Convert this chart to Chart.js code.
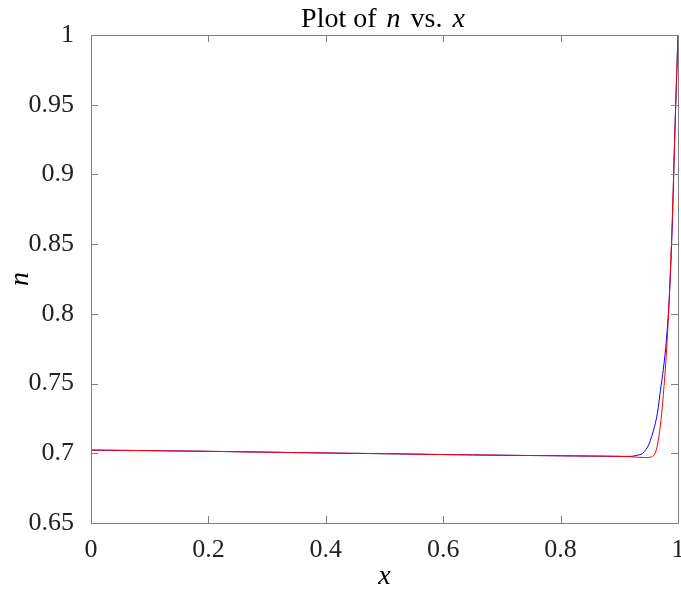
<!DOCTYPE html>
<html>
<head>
<meta charset="utf-8">
<script src="https://cdn.jsdelivr.net/npm/chart.js@4.4.0/dist/chart.umd.min.js"></script>
<style>
  html, body { margin: 0; padding: 0; background: #fff; }
  #wrap { width: 681px; height: 596px; }
</style>
</head>
<body>
<div id="wrap"><canvas id="chart_n"></canvas></div>
<script>
// sample positions along x and the two n(x) curves
let xs    = [0, 0.1, 0.2, 0.3, 0.4, 0.5, 0.6, 0.7, 0.8, 0.9, 0.92, 0.93, 0.94, 0.95, 0.955, 0.96, 0.965, 0.97, 0.975, 0.98, 0.985, 0.99, 0.995, 1];
let nBlue = [0.7023, 0.7019, 0.7014, 0.7008, 0.7002, 0.6997, 0.6991, 0.6986, 0.6982, 0.6978, 0.6978, 0.6985, 0.7000, 0.7060, 0.7120, 0.7190, 0.7290, 0.7450, 0.7600, 0.7800, 0.8100, 0.8600, 0.9350, 1.0];
let nRed  = [0.7023, 0.7019, 0.7014, 0.7008, 0.7002, 0.6997, 0.6991, 0.6986, 0.6982, 0.6978, 0.6975, 0.6972, 0.6970, 0.6970, 0.6975, 0.6990, 0.7060, 0.7200, 0.7420, 0.7700, 0.8100, 0.8650, 0.9350, 1.0];

let xTicks = [0, 0.2, 0.4, 0.6, 0.8, 1];
let xTickLabels = ['0', '0.2', '0.4', '0.6', '0.8', '1'];
let yTicks = [0.65, 0.7, 0.75, 0.8, 0.85, 0.9, 0.95, 1];
let yTickLabels = ['0.65', '0.7', '0.75', '0.8', '0.85', '0.9', '0.95', '1'];

let serif = '"Times New Roman", "Liberation Serif", Times, "DejaVu Serif", serif';
let boxColor = '#808080';

function pts(ys) {
    return xs.map(function (x, i) { return { x: x, y: ys[i] }; });
}

// box, inward ticks on all four sides, title and axis letters
let matlabFrame = {
    id: 'matlabFrame',
    afterDraw: function (chart) {
        let c = chart.ctx;
        let a = chart.chartArea;
        let sx = chart.scales.x;
        let sy = chart.scales.y;
        let len = 7;
        c.save();
        c.strokeStyle = boxColor;
        c.lineWidth = 1;
        c.beginPath();
        c.rect(Math.round(a.left) + 0.5, Math.round(a.top) + 0.5,
               Math.round(a.right - a.left), Math.round(a.bottom - a.top));
        xTicks.forEach(function (v) {
            let px = Math.round(sx.getPixelForValue(v)) + 0.5;
            c.moveTo(px, a.bottom); c.lineTo(px, a.bottom - len);
            c.moveTo(px, a.top); c.lineTo(px, a.top + len);
        });
        yTicks.forEach(function (v) {
            let py = Math.round(sy.getPixelForValue(v)) + 0.5;
            c.moveTo(a.left, py); c.lineTo(a.left + len, py);
            c.moveTo(a.right, py); c.lineTo(a.right - len, py);
        });
        c.stroke();

        // title: "Plot of n vs. x" with italic symbols
        let parts = [
            ['Plot of ', false], ['n', true], [' vs. ', false], ['x', true]
        ];
        c.fillStyle = '#000';
        c.textBaseline = 'alphabetic';
        let total = 0;
        parts.forEach(function (p) {
            c.font = (p[1] ? 'italic ' : '') + '28px ' + serif;
            total += c.measureText(p[0]).width + (p[1] ? 6 : 0);
        });
        let cx = (a.left + a.right) / 2 - total / 2;
        parts.forEach(function (p) {
            c.font = (p[1] ? 'italic ' : '') + '28px ' + serif;
            if (p[1]) cx += 3;
            c.textAlign = 'left';
            c.fillText(p[0], cx, 27);
            cx += c.measureText(p[0]).width + (p[1] ? 3 : 0);
        });

        c.font = 'italic 28px ' + serif;
        c.textAlign = 'center';
        c.fillText('x', (a.left + a.right) / 2, 584);
        c.save();
        c.translate(28, (a.top + a.bottom) / 2);
        c.rotate(-Math.PI / 2);
        c.fillText('n', 0, 0);
        c.restore();
        c.restore();
    }
};

let ctx_n = document.getElementById('chart_n');
let chart_n = new Chart(ctx_n, {
    type: 'scatter',
    data: {
        datasets: [{
            label: 'red',
            data: pts(nRed),
            showLine: true,
            borderColor: 'rgba(255, 0, 0, 1)',
            borderWidth: 1,
            pointRadius: 0,
            tension: 0.3,
            order: 0
        }, {
            label: 'blue',
            data: pts(nBlue),
            showLine: true,
            borderColor: 'rgba(0, 0, 255, 1)',
            borderWidth: 1,
            pointRadius: 0,
            tension: 0.3,
            order: 1
        }]
    },
    options: {
        responsive: true,
        maintainAspectRatio: false,
        animation: false,
        layout: { padding: { top: 35, right: 3, left: 0, bottom: 0 } },
        plugins: {
            legend: { display: false },
            tooltip: { enabled: false }
        },
        scales: {
            x: {
                type: 'linear',
                min: 0,
                max: 1,
                grid: { display: false },
                border: { display: false },
                afterBuildTicks: function (s) {
                    s.ticks = xTicks.map(function (v) { return { value: v }; });
                },
                afterFit: function (s) {
                    s.height = 73;
                    s.paddingLeft = 0;
                    s.paddingRight = 0;
                },
                ticks: {
                    color: '#222',
                    padding: 4,
                    maxRotation: 0,
                    font: { family: serif, size: 26 },
                    callback: function (v) { return xTickLabels[xTicks.indexOf(v)]; }
                }
            },
            y: {
                type: 'linear',
                min: 0.65,
                max: 1,
                grid: { display: false },
                border: { display: false },
                afterBuildTicks: function (s) {
                    s.ticks = yTicks.map(function (v) { return { value: v }; });
                },
                afterFit: function (s) {
                    s.width = 91;
                    s.paddingTop = 0;
                    s.paddingBottom = 0;
                },
                ticks: {
                    color: '#222',
                    padding: 9,
                    font: { family: serif, size: 26 },
                    callback: function (v) { return yTickLabels[yTicks.indexOf(v)]; }
                }
            }
        }
    },
    plugins: [matlabFrame]
});
</script>
</body>
</html>
